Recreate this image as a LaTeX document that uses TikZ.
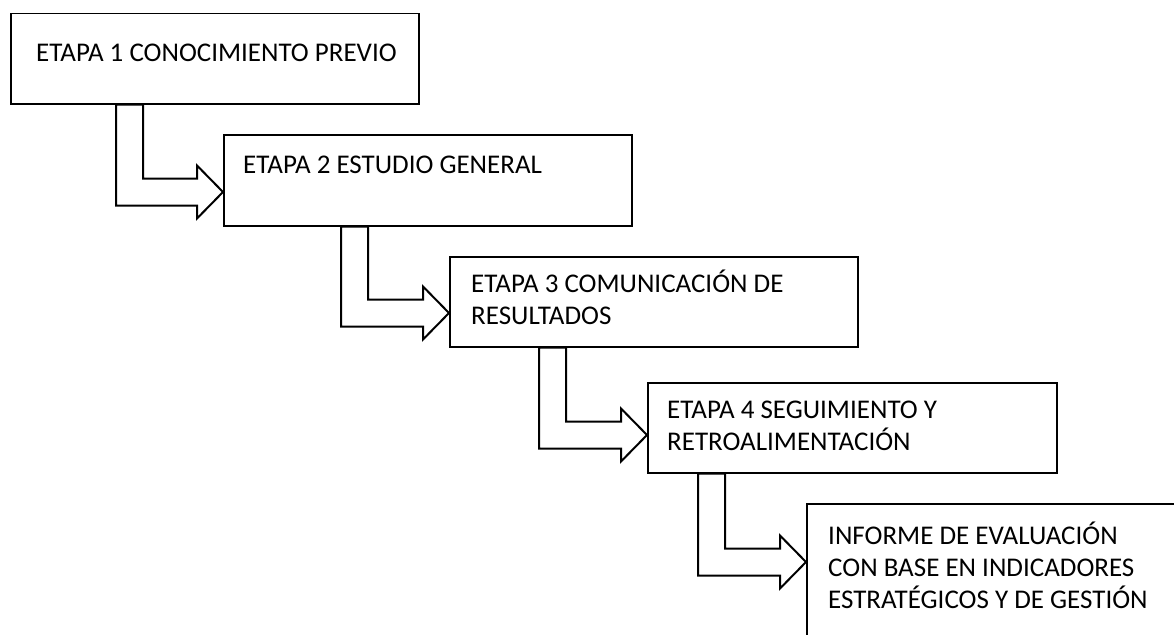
\documentclass[tikz,border=0pt]{standalone}
\usepackage{fontspec}
\setmainfont{Carlito}
\usetikzlibrary{calc}
\tikzset{
  stagebox/.style={draw=black, line width=1.5pt, fill=white, anchor=north west, inner sep=0pt, minimum height=90pt},
  lbl/.style={anchor=base west, inner sep=0pt, align=left, font=\fontsize{27}{32}\selectfont},
  arr/.style={draw=black, line width=2pt, fill=white, line join=miter}
}
\newcommand{\bentarrow}[2]{%
  \draw[arr] let \p1=(#1), \p2=(#2) in
    (\p1) -- (\x1+27pt,\y1) -- (\x1+27pt,\y2+13.5pt) -- (\x2-26pt,\y2+13.5pt)
    -- (\x2-26pt,\y2+26.5pt) -- (\p2) -- (\x2-26pt,\y2-26.5pt)
    -- (\x2-26pt,\y2-13.5pt) -- (\x1,\y2-13.5pt) -- cycle;}
\begin{document}
\begin{tikzpicture}[x=1pt,y=-1pt]
\clip (0,0) rectangle (1174,634);
\fill[white] (0,0) rectangle (1174,634);
% boxes
\node[stagebox, minimum width=408pt] (b1) at (10,13) {};
\node[stagebox, minimum width=408pt, minimum height=91pt] (b2) at (223,134) {};
\node[stagebox, minimum width=408pt] (b3) at (449,256) {};
\node[stagebox, minimum width=409pt] (b4) at (647,382) {};
\node[stagebox, minimum width=420pt, minimum height=160pt] (b5) at (806,503) {};
% labels (base anchor = baseline of the last line)
\node[lbl] (t1) at (36,61) {ETAPA 1 CONOCIMIENTO PREVIO};
\node[lbl] (t2) at (243,173) {ETAPA 2 ESTUDIO GENERAL};
\node[lbl] (t3) at (471,324) {ETAPA 3 COMUNICACIÓN DE\\RESULTADOS};
\node[lbl] (t4) at (667,450) {ETAPA 4 SEGUIMIENTO Y\\RETROALIMENTACIÓN};
\node[lbl] (t5) at (828,608) {INFORME DE EVALUACIÓN\\CON BASE EN INDICADORES\\ESTRATÉGICOS Y DE GESTIÓN};
% arrows
\coordinate (a1s) at ($(b1.south west)+(106,0)$);
\coordinate (a1e) at ($(b2.north west)+(0,58)$);
\coordinate (a2s) at ($(b2.south west)+(118,0)$);
\coordinate (a2e) at ($(b3.north west)+(0,57)$);
\coordinate (a3s) at ($(b3.south west)+(90,0)$);
\coordinate (a3e) at ($(b4.north west)+(0,53)$);
\coordinate (a4s) at ($(b4.south west)+(51,0)$);
\coordinate (a4e) at ($(b5.north west)+(0,59)$);
\bentarrow{a1s}{a1e}
\bentarrow{a2s}{a2e}
\bentarrow{a3s}{a3e}
\bentarrow{a4s}{a4e}
\end{tikzpicture}
\end{document}
